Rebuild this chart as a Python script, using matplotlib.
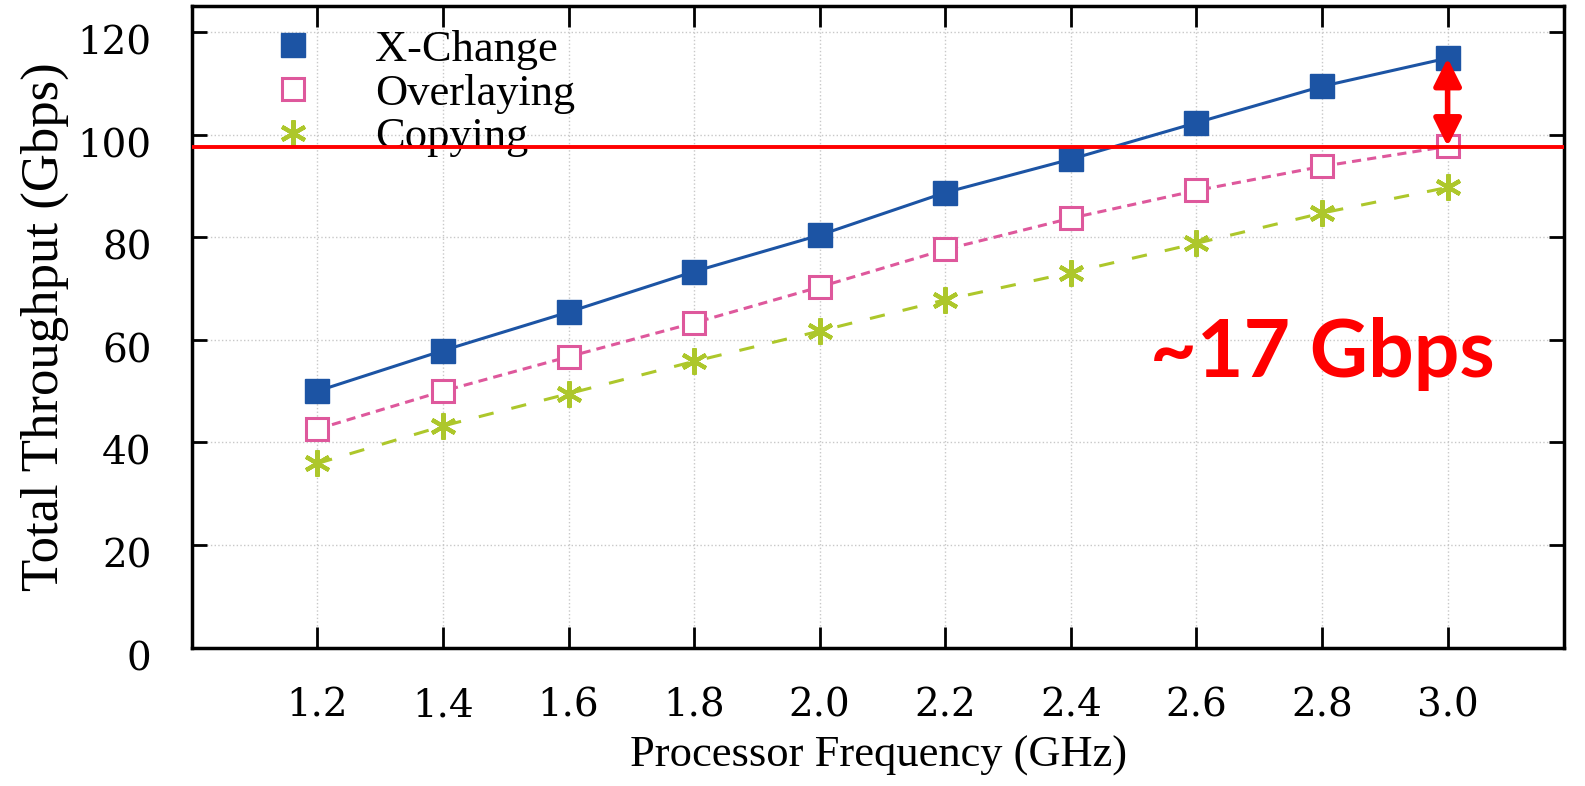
import matplotlib
matplotlib.use("Agg")
import matplotlib.pyplot as plt
import matplotlib.transforms as mtransforms
from matplotlib.lines import Line2D

# --- data ---
freq = [1.2, 1.4, 1.6, 1.8, 2.0, 2.2, 2.4, 2.6, 2.8, 3.0]
xchange = [50.0, 57.9, 65.4, 73.3, 80.4, 88.7, 95.2, 102.3, 109.4, 114.9]
overlaying = [42.6, 50.0, 56.7, 63.3, 70.3, 77.6, 83.7, 89.1, 93.8, 97.7]
copying = [35.9, 43.2, 49.5, 55.8, 61.7, 67.8, 73.1, 78.8, 84.7, 89.7]
yticks = [0, 20, 40, 60, 80, 100, 120]
limit_line = 97.5
gap_label = "~17 Gbps"

blue = "#1c54a4"
pink = "#de589c"
green = "#adc72b"

fig = plt.figure(figsize=(15.85, 7.86), dpi=100)
ax = fig.add_axes([0.121, 0.176, 0.866, 0.816])

ax.plot(freq, xchange, color=blue, lw=2.2, marker="s", ms=17,
        mfc=blue, mec=blue, zorder=4)
ax.plot(freq, overlaying, color=pink, lw=2.2, ls=(0, (3, 2)), marker="s", ms=16,
        mfc="white", mec=pink, mew=2.2, zorder=4)
ax.plot(freq, copying, color=green, lw=2.2, ls=(0, (5, 6)), marker=(6, 2, 0), ms=19,
        mec=green, mew=3, zorder=4)

# red reference line and gap arrow
ax.axhline(limit_line, color="red", lw=2.8, zorder=6)
ax.annotate("", xy=(freq[-1], overlaying[-1]), xytext=(freq[-1], xchange[-1]),
            arrowprops=dict(arrowstyle="<|-|>", color="red", lw=4,
                            mutation_scale=42, shrinkA=0, shrinkB=0),
            zorder=7)
ax.text(2.80, 57.2, gap_label, color="red", fontsize=58, fontweight="bold",
        family=["Lato", "DejaVu Sans"], ha="center", va="center", zorder=7)

ax.set_xlim(1.0, 3.186)
ax.set_ylim(0, 125)
ax.set_xticks(freq)
ax.set_xticklabels([f"{f:.1f}" for f in freq], family="DejaVu Serif", fontsize=28)
ax.set_yticks(yticks)
ax.set_yticklabels([str(v) for v in yticks], family="DejaVu Serif", fontsize=28)

ax.tick_params(axis="x", direction="in", length=15, width=2, top=True, pad=29)
ax.tick_params(axis="y", direction="in", length=11, width=2, right=True, pad=29)
offset = mtransforms.ScaledTranslation(0, -8 / 100, fig.dpi_scale_trans)
for lab in ax.get_yticklabels():
    lab.set_transform(lab.get_transform() + offset)

for sp in ax.spines.values():
    sp.set_linewidth(2.5)

ax.grid(True, color="#c8c8c8", ls=":", lw=1)
ax.set_axisbelow(True)

ax.set_xlabel("Processor Frequency (GHz)", family="Liberation Serif", fontsize=32, labelpad=8)
ax.set_ylabel("Total Throughput (Gbps)", family="Liberation Serif", fontsize=38, labelpad=6)

handles = [
    Line2D([], [], ls="none", marker="s", ms=17, mfc=blue, mec=blue),
    Line2D([], [], ls="none", marker="s", ms=16, mfc="white", mec=pink, mew=2.2),
    Line2D([], [], ls="none", marker=(6, 2, 0), ms=19, mec=green, mew=3),
]
leg = ax.legend(handles, ["X-Change", "Overlaying", "Copying"], loc="upper left",
                bbox_to_anchor=(0.022, 1.005), frameon=False, handletextpad=0.85,
                labelspacing=0.08, borderaxespad=0.2,
                prop={"family": "Liberation Serif", "size": 32})
leg.set_zorder(2)

fig.savefig("out.png", dpi=100)
